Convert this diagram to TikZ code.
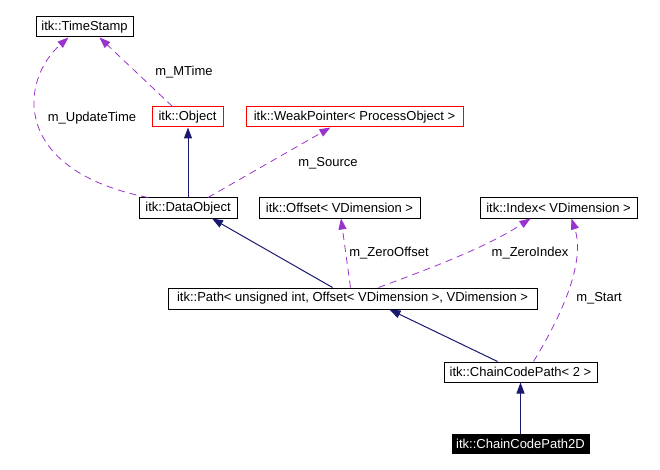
\documentclass[tikz,border=0pt]{standalone}
\usepackage{fontspec}
\setmainfont{Liberation Sans}
\usetikzlibrary{arrows.meta,calc}
\definecolor{edgepurple}{HTML}{9A32CD}
\definecolor{edgenavy}{HTML}{191970}
\begin{document}
\begin{tikzpicture}[x=1pt,y=-1pt,
  every node/.style={font=\fontsize{13}{15}\selectfont},
  box/.style={draw=black,line width=1pt,fill=white,inner sep=0pt,text=black},
  redbox/.style={box,draw=red},
  blackbox/.style={box,fill=black,text=white},
  inherit/.style={draw=edgenavy,line width=1pt,-{Triangle[length=11pt,width=8pt]}},
  member/.style={draw=edgepurple,line width=0.8pt,dash pattern=on 7pt off 5pt,
    -{Triangle[length=11pt,width=8pt,fill=edgepurple]}},
  lbl/.style={inner sep=0pt,text=black}]
\useasboundingbox (0,0) rectangle (660,470);
% nodes
\node[box,minimum width=97pt,minimum height=20pt] (ts) at (84.5,27) {itk::TimeStamp};
\node[redbox,minimum width=71pt,minimum height=20pt] (obj) at (187.5,117) {itk::Object};
\node[redbox,minimum width=217pt,minimum height=20pt] (wp) at (354.5,117) {itk::WeakPointer< ProcessObject >};
\node[box,minimum width=98pt,minimum height=20pt] (do) at (188,208) {itk::DataObject};
\node[box,minimum width=161pt,minimum height=20pt] (off) at (339.5,208) {itk::Offset< VDimension >};
\node[box,minimum width=157pt,minimum height=20pt] (idx) at (558.5,208) {itk::Index< VDimension >};
\node[box,minimum width=369pt,minimum height=21pt] (path) at (352.5,298.5) {itk::Path< unsigned int, Offset< VDimension >, VDimension >};
\node[box,minimum width=153pt,minimum height=20pt] (ccp) at (520.5,372) {itk::ChainCodePath< 2 >};
\node[blackbox,minimum width=137pt,minimum height=19pt] (cc2d) at (520.5,443.5) {itk::ChainCodePath2D};
% edges
\draw[inherit] (do.north) -- (do.north |- obj.south);
\draw[member] ([xshift=-15pt]obj.north) -- ([xshift=15pt]ts.south);
\draw[member] ([xshift=-40pt]do.north) .. controls (10,170) and (20,80) .. ([xshift=-16pt]ts.south);
\draw[member] ([xshift=20pt]do.north) -- ([xshift=-24pt]wp.south);
\draw[inherit] ([xshift=-20pt]path.north) -- ([xshift=24pt]do.south);
\draw[member] ([xshift=-2pt]path.north) -- ([xshift=1.5pt]off.south);
\draw[member] ([xshift=26pt]path.north) .. controls (440,265) and (490,245) .. ([xshift=-28pt]idx.south);
\draw[inherit] ([xshift=-23pt]ccp.north) -- ([xshift=37pt]path.south);
\draw[member] ([xshift=13pt]ccp.north) .. controls (565,310) and (585,260) .. ([xshift=13pt]idx.south);
\draw[inherit] (cc2d.north) -- (ccp.south);
% labels
\node[lbl] (l1) at (184,72) {m\_MTime};
\node[lbl] (l2) at (92,118) {m\_UpdateTime};
\node[lbl] (l3) at (328,163) {m\_Source};
\node[lbl] (l4) at (389,253) {m\_ZeroOffset};
\node[lbl] (l5) at (530,253) {m\_ZeroIndex};
\node[lbl] (l6) at (599,298) {m\_Start};
\end{tikzpicture}
\end{document}
